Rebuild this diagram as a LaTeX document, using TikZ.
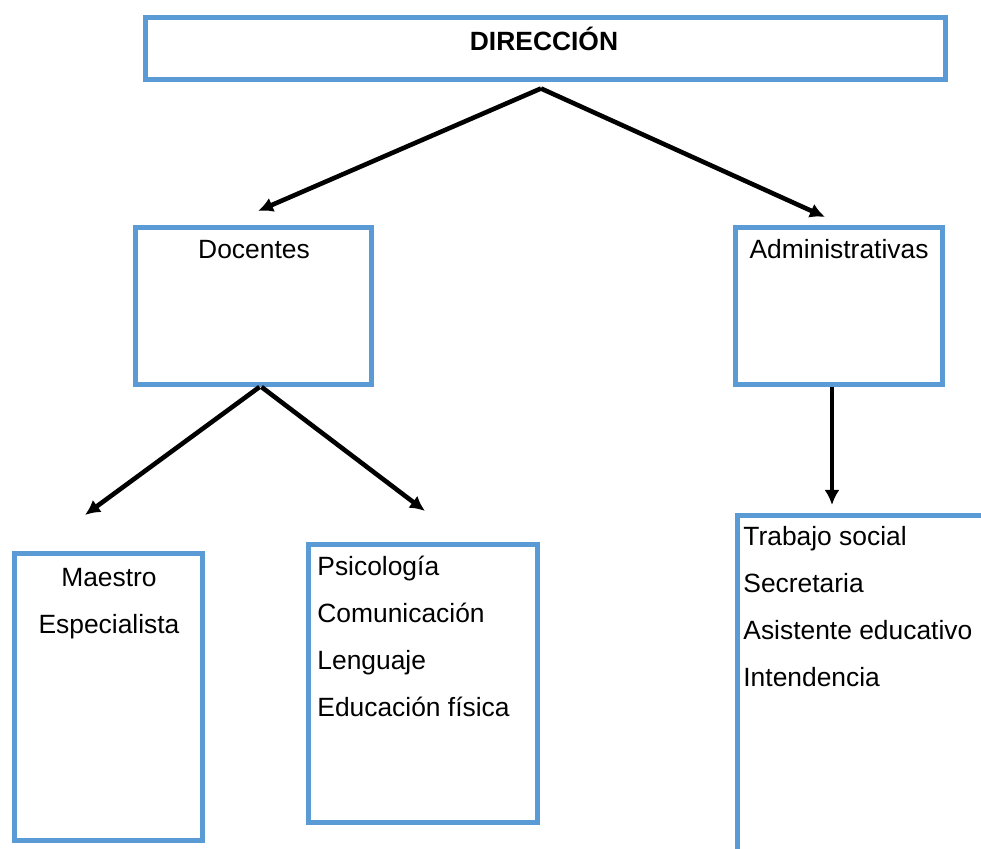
\documentclass[tikz,border=0pt]{standalone}
\usepackage{fontspec}
\setmainfont{Liberation Sans}
\usetikzlibrary{arrows.meta}
\definecolor{boxblue}{HTML}{5B9BD5}
\begin{document}
\begin{tikzpicture}[x=0.5pt, y=-0.5pt,
    box/.style={draw=boxblue, line width=2.5pt, minimum width=#1},
    item/.style={font=\fontsize{13.2}{16}\selectfont, inner sep=0pt},
    flecha/.style={-{Latex[length=7.5pt, width=7.5pt]}, line width=2.3pt}]
        \path[use as bounding box] (0, 0) rectangle (981, 849);
        % cajas
        \node[box=400pt, minimum height=31pt] (dir) at (545, 49) {};
        \node[box=118pt, minimum height=78.5pt] (doc) at (253.5, 306) {};
        \node[box=103.5pt, minimum height=78.5pt] (adm) at (839, 306) {};
        \node[box=94pt, minimum height=143.5pt] (mae) at (108.5, 697) {};
        \node[box=114.5pt, minimum height=139pt] (psi) at (423, 683.5) {};
        \begin{scope}
            \clip (0, 0) rectangle (981, 849);
            \node[box=150pt, minimum height=200pt] (tra) at (887.5, 715.5) {};
        \end{scope}
        % textos
        \node[item, anchor=base, font=\fontsize{13.2}{16}\selectfont\bfseries] (dirt) at (544, 51) {DIRECCIÓN};
        \node[item, anchor=base] (doct) at (254, 259) {Docentes};
        \node[item, anchor=base] (admt) at (839, 259) {Administrativas};
        \node[item, anchor=base] (mae1) at (109, 587) {Maestro};
        \node[item, anchor=base] (mae2) at (109, 634) {Especialista};
        \foreach \t [count=\i] in {Psicología, Comunicación, Lenguaje, Educación física}
            \node[item, anchor=base west] (psi\i) at (317, {576+47*(\i-1)}) {\t};
        \foreach \t [count=\i] in {Trabajo social, Secretaria, Asistente educativo, Intendencia}
            \node[item, anchor=base west] (tra\i) at (743, {546+47*(\i-1)}) {\t};
        % flechas
        \coordinate (docin) at (258, 211);
        \coordinate (admin) at (825, 217);
        \coordinate (maein) at (85, 515);
        \coordinate (psiin) at (425, 511);
        \coordinate (train) at (832, 505);
        \draw[flecha] ([xshift=-2pt, yshift=-3pt]dir.south) -- (docin);
        \draw[flecha] ([xshift=-2pt, yshift=-3pt]dir.south) -- (admin);
        \draw[flecha] ([xshift=3pt]doc.south) -- (maein);
        \draw[flecha] ([xshift=4pt]doc.south) -- (psiin);
        \draw[flecha] ([xshift=-3.5pt]adm.south) -- (train);
    \end{tikzpicture}
\end{document}
